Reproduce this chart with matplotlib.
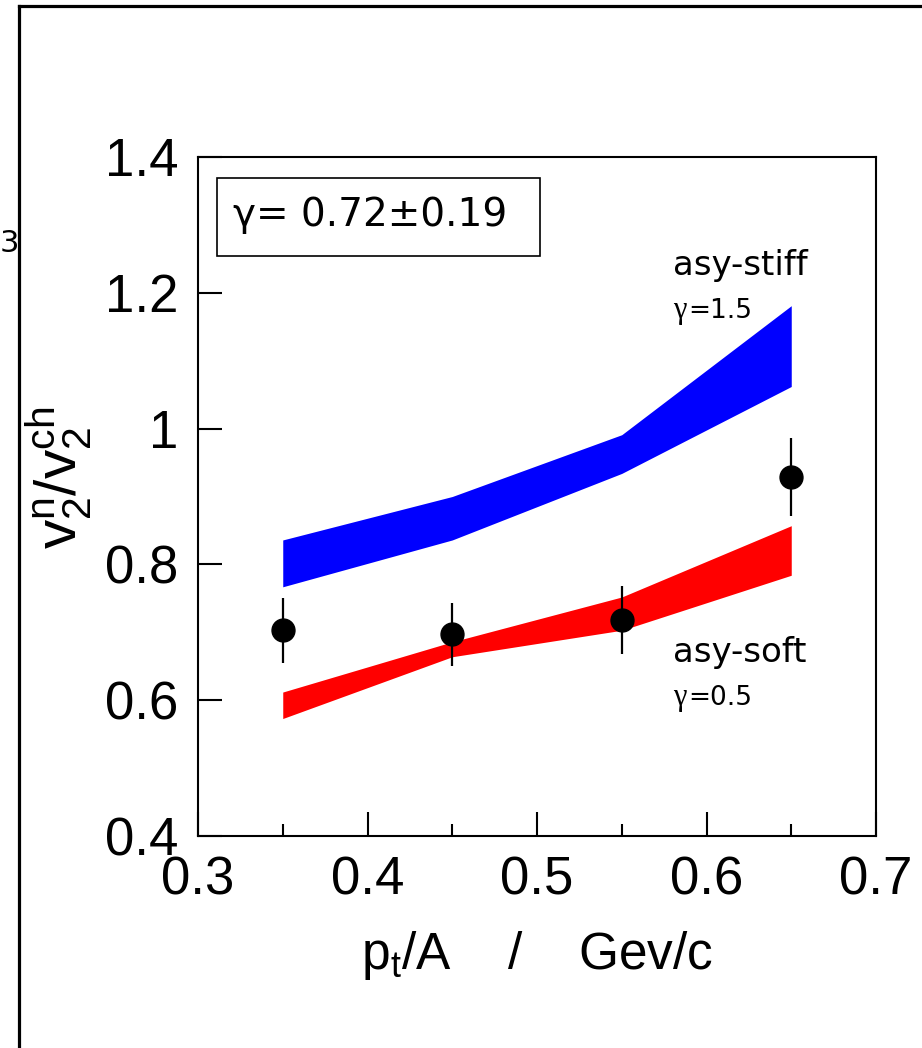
import matplotlib
matplotlib.use("Agg")
import matplotlib.pyplot as plt
from matplotlib.lines import Line2D
from matplotlib.patches import Rectangle
from matplotlib.ticker import FixedLocator, FixedFormatter

plt.rcParams['font.family'] = ['Liberation Sans', 'DejaVu Sans']
plt.rcParams['mathtext.fontset'] = 'custom'
plt.rcParams['mathtext.rm'] = 'Liberation Sans'
plt.rcParams['mathtext.it'] = 'Liberation Sans:italic'
plt.rcParams['mathtext.bf'] = 'Liberation Sans:bold'

# ---- data ----
pt = [0.35, 0.45, 0.55, 0.65]
stiff_lo = [0.767, 0.836, 0.934, 1.062]
stiff_hi = [0.836, 0.900, 0.991, 1.181]
soft_lo = [0.573, 0.664, 0.703, 0.784]
soft_hi = [0.612, 0.686, 0.752, 0.857]
data_y = [0.703, 0.697, 0.718, 0.929]
data_err = [0.048, 0.046, 0.050, 0.057]

x_ticks = [0.3, 0.4, 0.5, 0.6, 0.7]
x_ticklabels = ['0.3', '0.4', '0.5', '0.6', '0.7']
x_minor = [0.35, 0.45, 0.55, 0.65]
y_ticks = [0.4, 0.6, 0.8, 1.0, 1.2, 1.4]
y_ticklabels = ['0.4', '0.6', '0.8', '1', '1.2', '1.4']

W, H = 922, 1048
fig = plt.figure(figsize=(W / 100, H / 100), dpi=100)
ax = fig.add_axes([198 / W, 1 - 836 / H, (876 - 198) / W, (836 - 157) / H])

ax.fill_between(pt, stiff_lo, stiff_hi, color='#0000ff', linewidth=0)
ax.fill_between(pt, soft_lo, soft_hi, color='#ff0000', linewidth=0)
ax.errorbar(pt, data_y, yerr=data_err, fmt='o', color='black',
            markersize=16.5, elinewidth=1.6, capsize=0, zorder=5)

ax.set_xlim(0.3, 0.7)
ax.set_ylim(0.4, 1.4)

ax.xaxis.set_major_locator(FixedLocator(x_ticks))
ax.xaxis.set_major_formatter(FixedFormatter(x_ticklabels))
ax.xaxis.set_minor_locator(FixedLocator(x_minor))
ax.yaxis.set_major_locator(FixedLocator(y_ticks))
ax.yaxis.set_major_formatter(FixedFormatter(y_ticklabels))

ax.tick_params(axis='x', which='major', direction='in', length=17, width=1.5,
               labelsize=38, pad=14, top=False)
ax.tick_params(axis='x', which='minor', direction='in', length=8.6, width=1.5,
               top=False)
ax.tick_params(axis='y', which='major', direction='in', length=17, width=1.5,
               labelsize=38, pad=14, right=False)
for s in ax.spines.values():
    s.set_linewidth(1.5)

ax.set_xlabel(r'p$_\mathregular{t}$/A    /    Gev/c', fontsize=37, labelpad=17)
ax.set_ylabel(r'v$_\mathregular{2}^\mathregular{n}$/v$_\mathregular{2}^\mathregular{ch}$',
              fontsize=42)
ax.yaxis.set_label_coords(-0.152, 0.527)

# box with gamma value
ax.add_patch(Rectangle((0.028, 0.854), 0.4764, 0.115, transform=ax.transAxes,
                       fill=False, edgecolor='black', linewidth=1.2, zorder=6))
ax.text(0.0516, 0.898, 'γ= 0.72±0.19', transform=ax.transAxes, fontsize=28,
        va='baseline', ha='left', zorder=7, family='DejaVu Sans')

# band labels
ax.text(0.5802, 1.2262, 'asy-stiff', fontsize=24.5, va='baseline', ha='left',
        family='DejaVu Sans')
ax.text(0.5802, 1.1629, 'γ', fontsize=22, va='baseline', ha='left',
        family='Liberation Serif')
ax.text(0.5891, 1.1629, '=1.5', fontsize=19, va='baseline', ha='left',
        family='DejaVu Sans')
ax.text(0.5802, 0.6563, 'asy-soft', fontsize=24.5, va='baseline', ha='left',
        family='DejaVu Sans')
ax.text(0.5802, 0.5929, 'γ', fontsize=22, va='baseline', ha='left',
        family='Liberation Serif')
ax.text(0.5891, 0.5929, '=0.5', fontsize=19, va='baseline', ha='left',
        family='DejaVu Sans')

# outer frame (cropped)
fx = 19 / W
fy = 1 - 5.5 / H
fig.add_artist(Line2D([fx, fx], [0, fy], color='black', linewidth=2.3,
                      transform=fig.transFigure))
fig.add_artist(Line2D([fx, 1], [fy, fy], color='black', linewidth=2.3,
                      transform=fig.transFigure))
fig.text(0 / W, 1 - 252 / H, '3', fontsize=22, ha='left', va='baseline',
         family='DejaVu Sans')

fig.savefig('out.png', dpi=100)
